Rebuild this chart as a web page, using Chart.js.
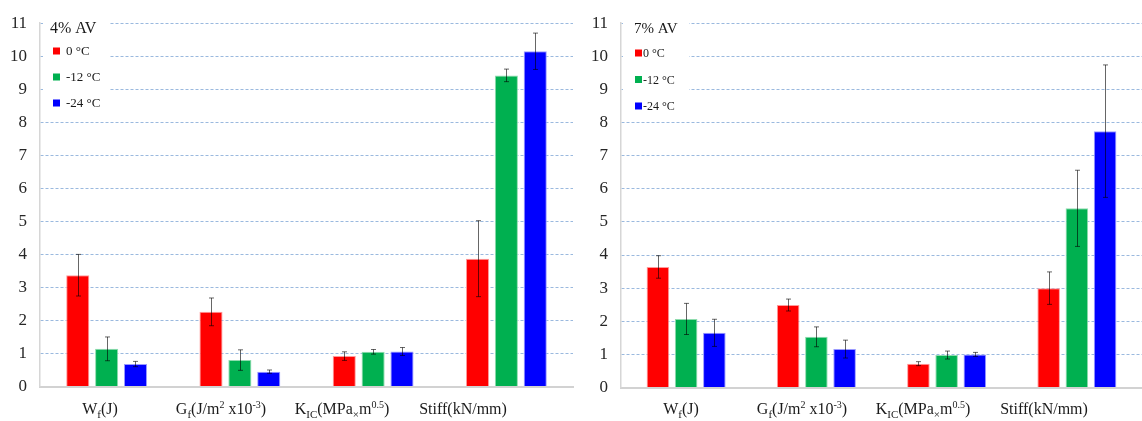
<!DOCTYPE html>
<html>
<head>
<meta charset="utf-8">
<script src="https://cdn.jsdelivr.net/npm/chart.js@4/dist/chart.umd.min.js"></script>
<style>
  html, body { margin: 0; padding: 0; background: #fff; }
  #wrap { position: relative; width: 1142px; height: 421px; }
  #chartLeft { position: absolute; left: 0; top: 0; }
  #chartRight { position: absolute; left: 576px; top: 0; }
</style>
</head>
<body>
<div id="wrap">
  <canvas id="chartLeft" width="576" height="421"></canvas>
  <canvas id="chartRight" width="566" height="421"></canvas>
</div>
<script>
// categories and series
const categories = ['Wf(J)', 'Gf(J/m2 x10-3)', 'KIC(MPa×m0.5)', 'Stiff(kN/mm)'];
// same labels split into runs for sub/superscripts
const categoryRuns = [
  [['W', 'n'], ['f', 'sub'], ['(J)', 'n']],
  [['G', 'n'], ['f', 'sub'], ['(J/m', 'n'], ['2', 'sup'], [' x10', 'n'], ['-3', 'sup'], [')', 'n']],
  [['K', 'n'], ['IC', 'sub'], ['(MPa', 'n'], ['×', 'sub'], ['m', 'n'], ['0.5', 'sup'], [')', 'n']],
  [['Stiff(kN/mm)', 'n']]
];
const seriesNames = ['0 °C', '-12 °C', '-24 °C'];
const yTicks = [0, 1, 2, 3, 4, 5, 6, 7, 8, 9, 10, 11];

// 4% AV
const av4_0 = [3.37, 2.26, 0.92, 3.87];
const av4_0_err = [0.63, 0.42, 0.13, 1.15];
const av4_12 = [1.14, 0.80, 1.05, 9.42];
const av4_12_err = [0.36, 0.31, 0.07, 0.19];
const av4_24 = [0.68, 0.45, 1.06, 10.15];
const av4_24_err = [0.08, 0.05, 0.12, 0.55];

// 7% AV
const av7_0 = [3.64, 2.49, 0.72, 3.00];
const av7_0_err = [0.34, 0.18, 0.06, 0.49];
const av7_12 = [2.07, 1.53, 0.98, 5.41];
const av7_12_err = [0.47, 0.30, 0.12, 1.15];
const av7_24 = [1.65, 1.16, 1.00, 7.74];
const av7_24_err = [0.41, 0.27, 0.06, 2.00];

const fills = ['#ff0000', '#00b050', '#0000ff'];
const edges = ['#ff9a9a', '#8fdcae', '#9a9aff'];
const SERIF = '"Liberation Serif", "Times New Roman", serif';

Chart.defaults.font.family = SERIF;
Chart.defaults.color = '#262626';

const errorBars = {
  id: 'errorBars',
  afterDatasetsDraw(chart) {
    const ctx = chart.ctx;
    const y = chart.scales.y;
    ctx.save();
    ctx.strokeStyle = 'rgba(0,0,0,0.6)';
    ctx.lineWidth = 1;
    chart.data.datasets.forEach((ds, di) => {
      const meta = chart.getDatasetMeta(di);
      meta.data.forEach((bar, i) => {
        const e = ds.errors[i];
        const yHi = y.getPixelForValue(ds.data[i] + e);
        const yLo = y.getPixelForValue(ds.data[i] - e);
        const x = Math.round(bar.x) + 0.5;
        ctx.beginPath();
        ctx.moveTo(x, yHi); ctx.lineTo(x, yLo);
        ctx.moveTo(x - 2.5, yHi); ctx.lineTo(x + 2.5, yHi);
        ctx.moveTo(x - 2.5, yLo); ctx.lineTo(x + 2.5, yLo);
        ctx.stroke();
      });
    });
    ctx.restore();
  }
};

const boxLegend = {
  id: 'boxLegend',
  afterDraw(chart, args, opts) {
    const ctx = chart.ctx;
    ctx.save();
    ctx.fillStyle = '#fff';
    ctx.fillRect(opts.box[0], opts.box[1], opts.box[2], opts.box[3]);
    ctx.fillStyle = '#1a1a1a';
    ctx.textBaseline = 'middle';
    ctx.textAlign = 'left';
    ctx.font = opts.titleSize + 'px ' + SERIF;
    ctx.fillText(opts.title, opts.titleX, 29);
    ctx.font = opts.itemSize + 'px ' + SERIF;
    chart.data.datasets.forEach((ds, i) => {
      const cy = opts.itemY + i * opts.itemGap;
      ctx.fillStyle = ds.backgroundColor;
      ctx.fillRect(opts.swatchX, cy - 3.5, 7, 7);
      ctx.fillStyle = '#1a1a1a';
      ctx.fillText(ds.label, opts.textX, cy + 1);
    });
    ctx.restore();
  }
};

const richLabels = {
  id: 'richLabels',
  afterDraw(chart) {
    const ctx = chart.ctx;
    const left = chart.chartArea.left;
    const sizes = { n: 16, sub: 11, sup: 10 };
    const shift = { n: 0, sub: 4, sup: -6 };
    ctx.save();
    ctx.fillStyle = '#1a1a1a';
    ctx.textBaseline = 'alphabetic';
    ctx.textAlign = 'left';
    categoryRuns.forEach((runs, i) => {
      let w = 0;
      runs.forEach(r => { ctx.font = sizes[r[1]] + 'px ' + SERIF; w += ctx.measureText(r[0]).width; });
      let x = left + 60 + i * 121 - w / 2;
      runs.forEach(r => {
        ctx.font = sizes[r[1]] + 'px ' + SERIF;
        ctx.fillText(r[0], x, 413.5 + shift[r[1]]);
        x += ctx.measureText(r[0]).width;
      });
    });
    ctx.restore();
  }
};

function makeChart(id, values, errors, legendOpts, pad, xHeight) {
  const datasets = values.map((v, i) => ({
    label: seriesNames[i],
    data: v,
    errors: errors[i],
    backgroundColor: fills[i],
    borderColor: edges[i],
    borderWidth: 1,
    categoryPercentage: 0.65,
    barPercentage: 0.8
  }));
  return new Chart(document.getElementById(id), {
    type: 'bar',
    data: { labels: categories, datasets: datasets },
    options: {
      responsive: false,
      animation: false,
      layout: { padding: pad },
      plugins: {
        legend: { display: false },
        tooltip: { enabled: false },
        boxLegend: legendOpts
      },
      scales: {
        x: {
          grid: { display: false },
          border: { display: true, color: '#d2d2d2', width: 2 },
          ticks: { display: false },
          afterFit: s => { s.height = xHeight; }
        },
        y: {
          min: 0, max: 11,
          afterBuildTicks: s => { s.ticks = yTicks.map(v => ({ value: v })); },
          afterFit: s => { s.width = 40; },
          grid: { color: '#9ab9de', lineWidth: 1, drawTicks: false },
          border: { display: true, color: '#d6d6d6', width: 1.5, dash: [3, 2] },
          ticks: { padding: 13, color: '#262626', font: { size: 17 } }
        }
      }
    },
    plugins: [errorBars, boxLegend, richLabels]
  });
}

makeChart('chartLeft',
  [av4_0, av4_12, av4_24], [av4_0_err, av4_12_err, av4_24_err],
  { title: '4% AV', titleX: 50, titleSize: 16, box: [43, 19, 67, 93], swatchX: 53, textX: 66, itemY: 51, itemGap: 26, itemSize: 13 },
  { left: 0, right: 3, top: 15, bottom: 0 }, 34.5);

makeChart('chartRight',
  [av7_0, av7_12, av7_24], [av7_0_err, av7_12_err, av7_24_err],
  { title: '7% AV', titleX: 58, titleSize: 15, box: [47, 19, 66, 100], swatchX: 59, textX: 67, itemY: 53, itemGap: 26.5, itemSize: 12 },
  { left: 5, right: 0, top: 15, bottom: 0 }, 33.5);
</script>
</body>
</html>
